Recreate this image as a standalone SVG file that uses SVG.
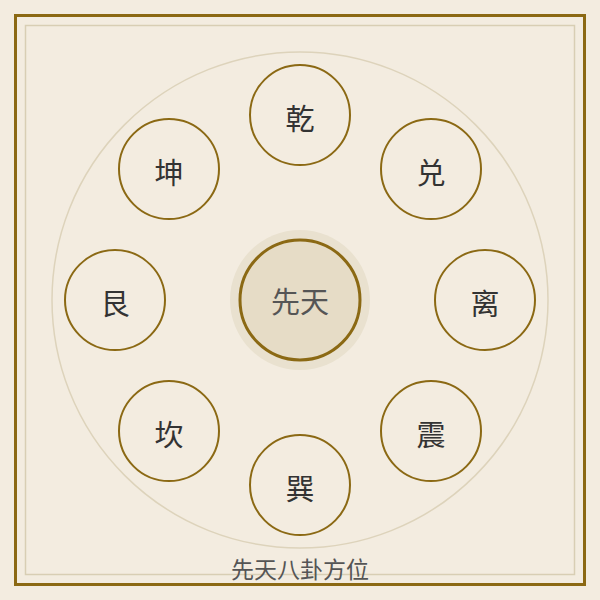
<svg xmlns="http://www.w3.org/2000/svg" width="600" height="600" viewBox="0 0 600 600">
<style>
.gua circle{fill:none;stroke:#8b6914;stroke-width:2}
.gua text{font-family:"Noto Sans CJK SC","Noto Sans CJK TC",sans-serif;font-size:29px;fill:#333;text-anchor:middle;dominant-baseline:central}
</style>
<rect width="600" height="600" fill="#f3ece0"/>
<rect x="15.5" y="15.5" width="569" height="569" fill="none" stroke="#8b6914" stroke-width="3"/>
<rect x="25.5" y="25.5" width="549" height="549" fill="none" stroke="#d8ceb4" stroke-width="1.5"/>
<g id="connectors"></g>
<circle cx="300" cy="300" r="248" fill="none" stroke="#ddd3bb" stroke-width="1.5"/>
<g id="center">
<circle cx="300" cy="300" r="70" fill="#e9e1cf"/>
<circle cx="300" cy="300" r="60" fill="#e6dcc6" stroke="#8b6914" stroke-width="3"/>
<text x="300" y="300" font-family="'Noto Sans CJK SC',sans-serif" font-size="29" fill="#555" text-anchor="middle" dominant-baseline="central">先天</text>
</g>
<g id="qian" class="gua"><circle cx="300" cy="115" r="50"/><text x="300" y="117">乾</text></g>
<g id="dui" class="gua"><circle cx="431" cy="169" r="50"/><text x="431" y="171">兑</text></g>
<g id="li" class="gua"><circle cx="485" cy="300" r="50"/><text x="485" y="302">离</text></g>
<g id="zhen" class="gua"><circle cx="431" cy="431" r="50"/><text x="431" y="433">震</text></g>
<g id="xun" class="gua"><circle cx="300" cy="485" r="50"/><text x="300" y="487">巽</text></g>
<g id="kan" class="gua"><circle cx="169" cy="431" r="50"/><text x="169" y="433">坎</text></g>
<g id="gen" class="gua"><circle cx="115" cy="300" r="50"/><text x="115" y="302">艮</text></g>
<g id="kun" class="gua"><circle cx="169" cy="169" r="50"/><text x="169" y="171">坤</text></g>
<text x="300" y="568" font-family="'Noto Sans CJK SC',sans-serif" font-size="23" fill="#555" text-anchor="middle" dominant-baseline="central">先天八卦方位</text>
</svg>
